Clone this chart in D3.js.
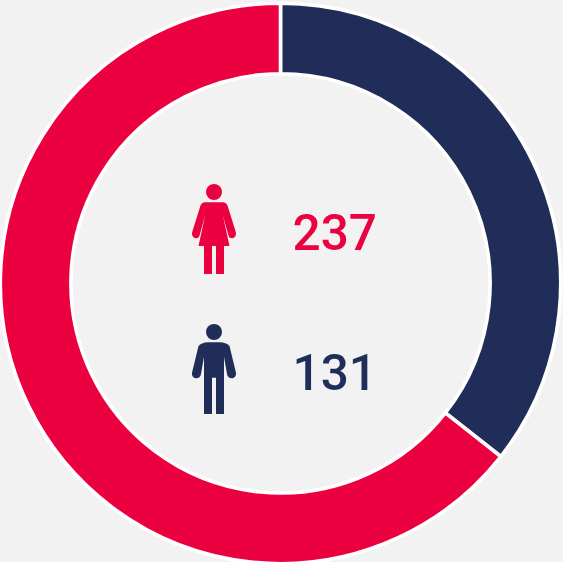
<!DOCTYPE html>
<html>
<head>
<meta charset="utf-8">
<script src="https://cdnjs.cloudflare.com/ajax/libs/d3/7.8.5/d3.min.js"></script>
<style>
  html, body { margin: 0; padding: 0; background: #f2f2f2; overflow: hidden; }
  svg { display: block; }
</style>
</head>
<body>
<div id="chart"></div>
<script>
// data
var categories = ["Men", "Women"];
var counts = [131, 237];
var colors = ["#1f2d58", "#eb0040"];
// order of the rows in the middle, women on top
var rowOrder = ["Women", "Men"];

var w = 563;
var h = 562;
var cx = 280.5;
var cy = 283.4;

var svg = d3.select("#chart").append("svg")
  .attr("width", w)
  .attr("height", h);

var color = d3.scaleOrdinal().domain(categories).range(colors);

var pie = d3.pie().sort(null).value(function(d, i) { return d; });
var arc = d3.arc().innerRadius(209.6).outerRadius(280.2);

svg.append("g")
  .attr("transform", "translate(" + cx + "," + cy + ")")
  .selectAll("path")
  .data(pie(counts))
  .join("path")
  .attr("d", arc)
  .style("fill", function(d, i) { return color(categories[i]); })
  .style("stroke", "#ffffff")
  .style("stroke-width", 3.6);

// pictograms, origin is the centre of the head
var iconPaths = {
  Women: "M-9,10.3 L9,10.3 C11,10.3 13,12 13.6,13.8 L21.8,40 C22.8,43.5 20.6,46.3 17.8,46.3 C16,46.3 14.8,45 14.3,43 L8.8,23 L15.5,54 L10,54 L10,82 L2,82 L2,54 L-2,54 L-2,82 L-10,82 L-10,54 L-15.5,54 L-8.8,23 L-14.3,43 C-14.8,45 -16,46.3 -17.8,46.3 C-20.6,46.3 -22.8,43.5 -21.8,40 L-13.6,13.8 C-13,12 -11,10.3 -9,10.3 Z",
  Men: "M-6,10.3 L6,10.3 C10,10.3 13,11.5 15.5,14 L21.8,40 C22.8,43.5 20.6,46.3 17.8,46.3 C15.6,46.3 13.8,45 13.2,43 L10,24.7 L10,82 L2,82 L2,45.7 L-2,45.7 L-2,82 L-10,82 L-10,24.7 L-13.2,43 C-13.8,45 -15.6,46.3 -17.8,46.3 C-20.6,46.3 -22.8,43.5 -21.8,40 L-15.5,14 C-13,11.5 -10,10.3 -6,10.3 Z"
};

var y = d3.scalePoint().domain(rowOrder).range([192, 332]);

var rows = svg.append("g")
  .selectAll("g")
  .data(rowOrder)
  .join("g")
  .attr("transform", function(d) { return "translate(214," + y(d) + ")"; })
  .style("fill", function(d) { return color(d); });

rows.append("circle").attr("r", 8);
rows.append("path").attr("d", function(d) { return iconPaths[d]; });

rows.append("text")
  .attr("x", 78.5)
  .attr("y", 57.5)
  .style("font-family", "Roboto, sans-serif")
  .style("font-size", "49.5px")
  .style("font-weight", 500)
  .text(function(d) { return counts[categories.indexOf(d)]; });
</script>
</body>
</html>
